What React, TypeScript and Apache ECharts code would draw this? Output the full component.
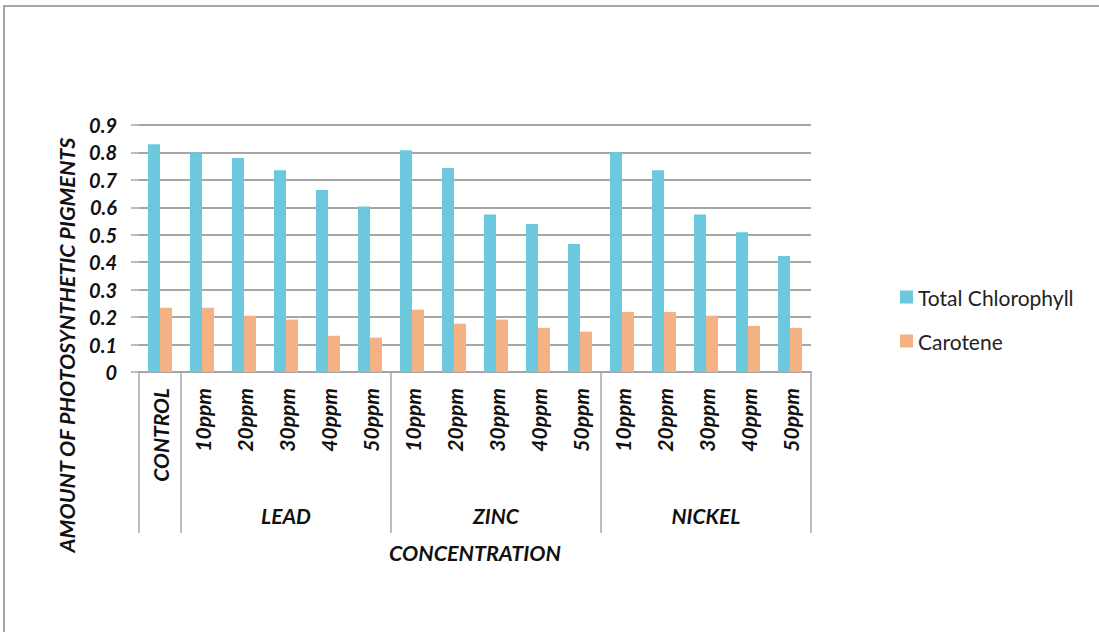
import React, { useEffect, useRef } from "react";
import * as echarts from "echarts";

const categories = [
  "CONTROL",
  "10ppm", "20ppm", "30ppm", "40ppm", "50ppm",
  "10ppm", "20ppm", "30ppm", "40ppm", "50ppm",
  "10ppm", "20ppm", "30ppm", "40ppm", "50ppm",
];
const groupNames = ["LEAD", "ZINC", "NICKEL"];
const groupCenters = [3.5, 8.5, 13.5];
const groupBoundaries = [0, 1, 6, 11, 16];

const totalChlorophyll = [
  0.83,
  0.80, 0.78, 0.735, 0.663, 0.603,
  0.808, 0.743, 0.574, 0.539, 0.466,
  0.801, 0.735, 0.574, 0.509, 0.423,
];
const carotene = [
  0.234,
  0.234, 0.205, 0.191, 0.132, 0.125,
  0.227, 0.176, 0.191, 0.161, 0.147,
  0.219, 0.219, 0.205, 0.168, 0.161,
];

const FONT = "Lato, 'Open Sans', sans-serif";
const GRAY = "#a6a6a6";

export default function App() {
  const ref = useRef<HTMLDivElement>(null);

  useEffect(() => {
    if (!ref.current) return;
    const chart = echarts.init(ref.current, null, { renderer: "svg" });
    chart.setOption({
      animation: false,
      backgroundColor: "#ffffff",
      grid: { left: 139, right: 288, top: 125, bottom: 260, containLabel: false },
      legend: {
        orient: "vertical",
        left: 895,
        top: 280,
        itemWidth: 13,
        itemHeight: 13,
        itemGap: 20,
        icon: "rect",
        textStyle: { fontFamily: FONT, fontSize: 21, color: "#222", lineHeight: 24 },
        data: ["Total Chlorophyll", "Carotene"],
      },
      xAxis: [
        {
          type: "category",
          data: categories,
          position: "bottom",
          axisLine: { show: true, lineStyle: { color: GRAY, width: 2 } },
          axisTick: { show: false },
          axisLabel: {
            rotate: 90,
            interval: 0,
            margin: 16,
            fontFamily: FONT,
            fontSize: 21,
            fontWeight: "bold",
            fontStyle: "italic",
            color: "#111",
          },
          splitLine: { show: false },
        },
        {
          type: "value",
          min: 0,
          max: 16,
          position: "bottom",
          offset: 0,
          axisLine: { show: false },
          splitLine: { show: false },
          axisTick: {
            show: true,
            inside: false,
            length: 161,
            customValues: groupBoundaries,
            lineStyle: { color: GRAY, width: 1.5 },
          },
          axisLabel: {
            show: true,
            customValues: groupCenters,
            margin: 133,
            fontFamily: FONT,
            fontSize: 21,
            fontWeight: "bold",
            fontStyle: "italic",
            color: "#111",
            formatter: (v: number) => {
              const i = groupCenters.indexOf(v);
              return i >= 0 ? groupNames[i] : "";
            },
          },
          name: "CONCENTRATION",
          nameLocation: "middle",
          nameGap: 170,
          nameTextStyle: {
            fontFamily: FONT,
            fontSize: 21.5,
            fontWeight: "bold",
            fontStyle: "italic",
            color: "#111",
          },
        },
      ],
      yAxis: {
        type: "value",
        min: 0,
        max: 0.9,
        interval: 0.1,
        axisLine: { show: false },
        axisTick: { show: true, length: 8, lineStyle: { color: GRAY, width: 1.5 } },
        splitLine: { show: true, lineStyle: { color: GRAY, width: 2 } },
        axisLabel: {
          margin: 22,
          fontFamily: FONT,
          fontSize: 20,
          fontWeight: "bold",
          fontStyle: "italic",
          color: "#111",
          formatter: (v: number) => (v === 0 ? "0" : v.toFixed(1)),
        },
      },
      graphic: [
        {
          type: "rect",
          shape: { x: 4, y: 6, width: 1200, height: 700 },
          style: { fill: "none", stroke: GRAY, lineWidth: 2 },
          silent: true,
        },
        {
          type: "text",
          x: 67,
          y: 345,
          rotation: Math.PI / 2,
          style: {
            text: "AMOUNT OF PHOTOSYNTHETIC PIGMENTS",
            fontFamily: FONT,
            fontSize: 21.5,
            fontWeight: "bold",
            fontStyle: "italic",
            fill: "#111",
            align: "center",
            verticalAlign: "middle",
          },
        },
      ],
      series: [
        {
          name: "Total Chlorophyll",
          type: "bar",
          data: totalChlorophyll,
          barWidth: 12,
          barGap: "0%",
          itemStyle: { color: "#6CC8DC" },
        },
        {
          name: "Carotene",
          type: "bar",
          data: carotene,
          barWidth: 12,
          barGap: "0%",
          itemStyle: { color: "#F4B183" },
        },
      ],
    });
    return () => chart.dispose();
  }, []);

  return (
    <div
      ref={ref}
      style={{ position: "absolute", left: 0, top: 0, width: 1099, height: 632 }}
    />
  );
}
